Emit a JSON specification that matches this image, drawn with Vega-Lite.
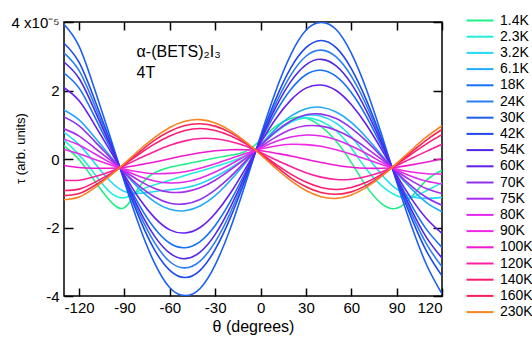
{
  "$schema": "https://vega.github.io/schema/vega-lite/v6.json",
  "width": 378,
  "height": 274,
  "autosize": {"type": "none"},
  "padding": {"left": 64, "top": 22, "right": 90, "bottom": 42},
  "config": {"view": {"stroke": "black", "strokeWidth": 1.5}, "font": "Liberation Sans"},
  "data": {"values": [
    {"T": "1.4K", "theta": [-130,-120,-110,-100,-90,-80,-70,-60,-50,-40,-30,-20,-10,0,10,20,30,40,50,60,70,80,90,100,110,120], "tau": [0.38,-0.02,-0.62,-1.2,-1.42,-0.8,-0.4,-0.24,-0.15,-0.06,0.03,0.11,0.22,0.55,0.95,1.18,1.2,0.95,0.52,-0.1,-0.8,-1.3,-1.44,-1.1,-0.61,-0.33]},
    {"T": "2.3K", "theta": [-130,-120,-110,-100,-90,-80,-70,-60,-50,-40,-30,-20,-10,0,10,20,30,40,50,60,70,80,90,100,110,120], "tau": [0.55,0.12,-0.42,-0.95,-1.13,-0.92,-0.75,-0.62,-0.48,-0.36,-0.22,-0.08,0.1,0.4,0.78,1.07,1.2,1.1,0.82,0.32,-0.3,-0.78,-1.07,-1.12,-0.92,-0.7]},
    {"T": "3.2K", "theta": [-130,-120,-110,-100,-90,-80,-70,-60,-50,-40,-30,-20,-10,0,10,20,30,40,50,60,70,80,90,100,110,120], "tau": [0.78,0.42,-0.1,-0.62,-0.95,-1.0,-0.95,-0.9,-0.84,-0.72,-0.52,-0.27,0.03,0.4,0.8,1.1,1.27,1.25,1.05,0.65,0.1,-0.45,-0.88,-1.1,-1.15,-1.12]},
    {"T": "6.1K", "theta": [-130,-120,-110,-100,-90,-80,-70,-60,-50,-40,-30,-20,-10,0,10,20,30,40,50,60,70,80,90,100,110,120], "tau": [1.43,1.14,0.65,0.12,-0.41,-0.88,-1.25,-1.47,-1.51,-1.37,-1.07,-0.63,-0.12,0.41,0.88,1.25,1.47,1.51,1.37,1.07,0.63,0.12,-0.41,-0.88,-1.28,-1.54]},
    {"T": "18K", "theta": [-130,-120,-110,-100,-90,-80,-70,-60,-50,-40,-30,-20,-10,0,10,20,30,40,50,60,70,80,90,100,110,120], "tau": [2.51,2.07,1.26,0.38,-0.52,-1.36,-2.03,-2.46,-2.59,-2.41,-1.94,-1.24,-0.38,0.52,1.36,2.03,2.46,2.59,2.41,1.94,1.24,0.38,-0.52,-1.36,-2.07,-2.58]},
    {"T": "24K", "theta": [-130,-120,-110,-100,-90,-80,-70,-60,-50,-40,-30,-20,-10,0,10,20,30,40,50,60,70,80,90,100,110,120], "tau": [3.10,2.58,1.60,0.52,-0.58,-1.61,-2.45,-3.00,-3.18,-2.98,-2.42,-1.57,-0.52,0.58,1.61,2.45,3.00,3.18,2.98,2.42,1.57,0.52,-0.58,-1.61,-2.50,-3.15]},
    {"T": "30K", "theta": [-130,-120,-110,-100,-90,-80,-70,-60,-50,-40,-30,-20,-10,0,10,20,30,40,50,60,70,80,90,100,110,120], "tau": [3.93,3.29,2.07,0.72,-0.67,-1.98,-3.05,-3.76,-3.99,-3.78,-3.09,-2.03,-0.72,0.67,1.98,3.05,3.76,3.99,3.78,3.09,2.03,0.72,-0.67,-1.98,-3.11,-3.94]},
    {"T": "42K", "theta": [-130,-120,-110,-100,-90,-80,-70,-60,-50,-40,-30,-20,-10,0,10,20,30,40,50,60,70,80,90,100,110,120], "tau": [3.38,2.82,1.76,0.59,-0.61,-1.74,-2.66,-3.25,-3.46,-3.25,-2.64,-1.72,-0.59,0.61,1.74,2.66,3.25,3.46,3.25,2.64,1.72,0.59,-0.61,-1.74,-2.71,-3.41]},
    {"T": "54K", "theta": [-130,-120,-110,-100,-90,-80,-70,-60,-50,-40,-30,-20,-10,0,10,20,30,40,50,60,70,80,90,100,110,120], "tau": [2.83,2.35,1.45,0.46,-0.55,-1.50,-2.26,-2.75,-2.91,-2.72,-2.20,-1.41,-0.46,0.55,1.50,2.26,2.75,2.91,2.72,2.20,1.41,0.46,-0.55,-1.50,-2.31,-2.89]},
    {"T": "60K", "theta": [-130,-120,-110,-100,-90,-80,-70,-60,-50,-40,-30,-20,-10,0,10,20,30,40,50,60,70,80,90,100,110,120], "tau": [2.08,1.70,1.02,0.28,-0.47,-1.17,-1.72,-2.07,-2.16,-2.00,-1.59,-1.00,-0.28,0.47,1.17,1.72,2.07,2.16,2.00,1.59,1.00,0.28,-0.47,-1.17,-1.75,-2.17]},
    {"T": "70K", "theta": [-130,-120,-110,-100,-90,-80,-70,-60,-50,-40,-30,-20,-10,0,10,20,30,40,50,60,70,80,90,100,110,120], "tau": [1.23,0.97,0.53,0.07,-0.39,-0.80,-1.11,-1.29,-1.31,-1.18,-0.90,-0.52,-0.07,0.39,0.80,1.11,1.29,1.31,1.18,0.90,0.52,0.07,-0.39,-0.80,-1.13,-1.35]},
    {"T": "75K", "theta": [-130,-120,-110,-100,-90,-80,-70,-60,-50,-40,-30,-20,-10,0,10,20,30,40,50,60,70,80,90,100,110,120], "tau": [0.88,0.67,0.33,-0.01,-0.35,-0.64,-0.86,-0.97,-0.96,-0.84,-0.62,-0.32,0.01,0.35,0.64,0.86,0.97,0.96,0.84,0.62,0.32,-0.01,-0.35,-0.64,-0.87,-1.01]},
    {"T": "80K", "theta": [-130,-120,-110,-100,-90,-80,-70,-60,-50,-40,-30,-20,-10,0,10,20,30,40,50,60,70,80,90,100,110,120], "tau": [0.58,0.41,0.16,-0.09,-0.32,-0.51,-0.64,-0.70,-0.67,-0.56,-0.38,-0.16,0.09,0.32,0.51,0.64,0.70,0.67,0.56,0.38,0.16,-0.09,-0.32,-0.51,-0.65,-0.73]},
    {"T": "90K", "theta": [-130,-120,-110,-100,-90,-80,-70,-60,-50,-40,-30,-20,-10,0,10,20,30,40,50,60,70,80,90,100,110,120], "tau": [0.28,0.15,-0.01,-0.16,-0.29,-0.38,-0.43,-0.42,-0.37,-0.27,-0.14,0.01,0.16,0.29,0.38,0.43,0.42,0.37,0.27,0.14,-0.01,-0.16,-0.29,-0.38,-0.43,-0.44]},
    {"T": "100K", "theta": [-130,-120,-110,-100,-90,-80,-70,-60,-50,-40,-30,-20,-10,0,10,20,30,40,50,60,70,80,90,100,110,120], "tau": [-0.19,-0.25,-0.27,-0.27,-0.24,-0.17,-0.09,0.01,0.10,0.18,0.24,0.27,0.27,0.24,0.17,0.09,-0.01,-0.10,-0.18,-0.24,-0.27,-0.27,-0.24,-0.17,-0.09,0.01]},
    {"T": "120K", "theta": [-130,-120,-110,-100,-90,-80,-70,-60,-50,-40,-30,-20,-10,0,10,20,30,40,50,60,70,80,90,100,110,120], "tau": [-0.62,-0.62,-0.52,-0.38,-0.19,0.02,0.22,0.40,0.53,0.60,0.59,0.51,0.38,0.19,-0.02,-0.22,-0.40,-0.53,-0.60,-0.59,-0.51,-0.38,-0.19,0.02,0.23,0.43]},
    {"T": "140K", "theta": [-130,-120,-110,-100,-90,-80,-70,-60,-50,-40,-30,-20,-10,0,10,20,30,40,50,60,70,80,90,100,110,120], "tau": [-0.92,-0.88,-0.69,-0.45,-0.16,0.15,0.44,0.67,0.83,0.89,0.83,0.68,0.45,0.16,-0.15,-0.44,-0.67,-0.83,-0.89,-0.83,-0.68,-0.45,-0.16,0.15,0.45,0.71]},
    {"T": "160K", "theta": [-130,-120,-110,-100,-90,-80,-70,-60,-50,-40,-30,-20,-10,0,10,20,30,40,50,60,70,80,90,100,110,120], "tau": [-1.07,-1.01,-0.78,-0.49,-0.14,0.21,0.55,0.81,0.98,1.03,0.96,0.77,0.49,0.14,-0.21,-0.55,-0.81,-0.98,-1.03,-0.96,-0.77,-0.49,-0.14,0.21,0.56,0.86]},
    {"T": "230K", "theta": [-130,-120,-110,-100,-90,-80,-70,-60,-50,-40,-30,-20,-10,0,10,20,30,40,50,60,70,80,90,100,110,120], "tau": [-1.19,-1.11,-0.85,-0.51,-0.13,0.27,0.63,0.92,1.10,1.15,1.05,0.83,0.51,0.13,-0.27,-0.63,-0.92,-1.10,-1.15,-1.05,-0.83,-0.51,-0.13,0.27,0.65,0.97]}
  ]},
  "layer": [
    {
      "transform": [{"flatten": ["theta", "tau"]}],
      "mark": {"type": "line", "interpolate": "natural", "strokeWidth": 1.6, "clip": true},
      "encoding": {
        "x": {"field": "theta", "type": "quantitative",
              "scale": {"domain": [-130, 120], "nice": false, "zero": false},
              "axis": {"values": [-120,-90,-60,-30,0,30,60,90,120], "labelExpr": "toString(datum.value)", "tickSize": -8, "tickWidth": 1.5, "tickColor": "black", "domain": false, "grid": false, "labelFontSize": 15, "labelColor": "black", "labelPadding": 12, "labelFont": "Liberation Sans", "title": "θ (degrees)", "titleFont": "Liberation Sans", "titleFontSize": 16, "titleFontWeight": "normal", "titleColor": "black", "titlePadding": 3}},
        "y": {"field": "tau", "type": "quantitative",
              "scale": {"domain": [-4, 4], "nice": false},
              "axis": {"values": [-4,-2,0,2,4], "labelExpr": "datum.value == 4 ? '4 x10⁻⁵' : toString(datum.value)", "tickSize": -9, "tickWidth": 1.5, "tickColor": "black", "domain": false, "grid": false, "labelFontSize": 15, "labelColor": "black", "labelPadding": 14, "labelFont": "Liberation Sans", "title": "τ (arb. units)", "titleFont": "Liberation Sans", "titleFontSize": 13, "titleFontWeight": "normal", "titleColor": "black", "titleX": -44, "titleY": 126, "titleBaseline": "middle", "titleAlign": "center"}},
        "color": {"field": "T", "type": "nominal",
                  "scale": {"domain": ["1.4K","2.3K","3.2K","6.1K","18K","24K","30K","42K","54K","60K","70K","75K","80K","90K","100K","120K","140K","160K","230K"],
                            "range": ["#22EE88","#22EEDD","#22D8F6","#22AAF8","#1670F8","#2A7EF2","#1E60F0","#1E48F0","#5028E8","#6420F0","#9030F0","#A82CF0","#E028F0","#F028E6","#F018D0","#FF20A0","#FF1A70","#F8205A","#F88420"]},
                  "legend": {"orient": "none", "legendX": 408, "legendY": -9.5, "title": null, "symbolType": "M-2,0H2", "symbolSize": 182, "symbolStrokeWidth": 2, "symbolFillColor": "transparent", "labelFontSize": 14, "labelFont": "Liberation Sans", "labelColor": "black", "labelOffset": 12, "padding": 0, "rowPadding": 1.2}}
      }
    },
    {
      "transform": [{"flatten": ["theta", "tau"]}],
      "mark": {"type": "line", "opacity": 0},
      "encoding": {
        "x": {"field": "theta", "type": "quantitative",
              "scale": {"domain": [-130, 120], "nice": false, "zero": false},
              "axis": {"orient": "top", "values": [-120,-90,-60,-30,0,30,60,90,120], "labels": false, "tickSize": -8, "tickWidth": 1.5, "tickColor": "black", "domain": false, "grid": false, "title": null}},
        "y": {"field": "tau", "type": "quantitative",
              "scale": {"domain": [-4, 4], "nice": false},
              "axis": {"orient": "right", "values": [-4,-2,0,2,4], "labels": false, "tickSize": -9, "tickWidth": 1.5, "tickColor": "black", "domain": false, "grid": false, "title": null}},
        "detail": {"field": "T"}
      }
    },
    {
      "data": {"values": [
        {"label": "α-(BETS)₂I₃", "theta": -82, "tau": 2.98},
        {"label": "4T", "theta": -82, "tau": 2.36}
      ]},
      "mark": {"type": "text", "align": "left", "baseline": "alphabetic", "fontSize": 16, "font": "Liberation Sans", "color": "black"},
      "encoding": {
        "x": {"field": "theta", "type": "quantitative", "scale": {"domain": [-130, 120], "nice": false, "zero": false}, "axis": null},
        "y": {"field": "tau", "type": "quantitative", "scale": {"domain": [-4, 4], "nice": false}, "axis": null},
        "text": {"field": "label"}
      }
    }
  ],
  "resolve": {"axis": {"x": "independent", "y": "independent"}}
}
